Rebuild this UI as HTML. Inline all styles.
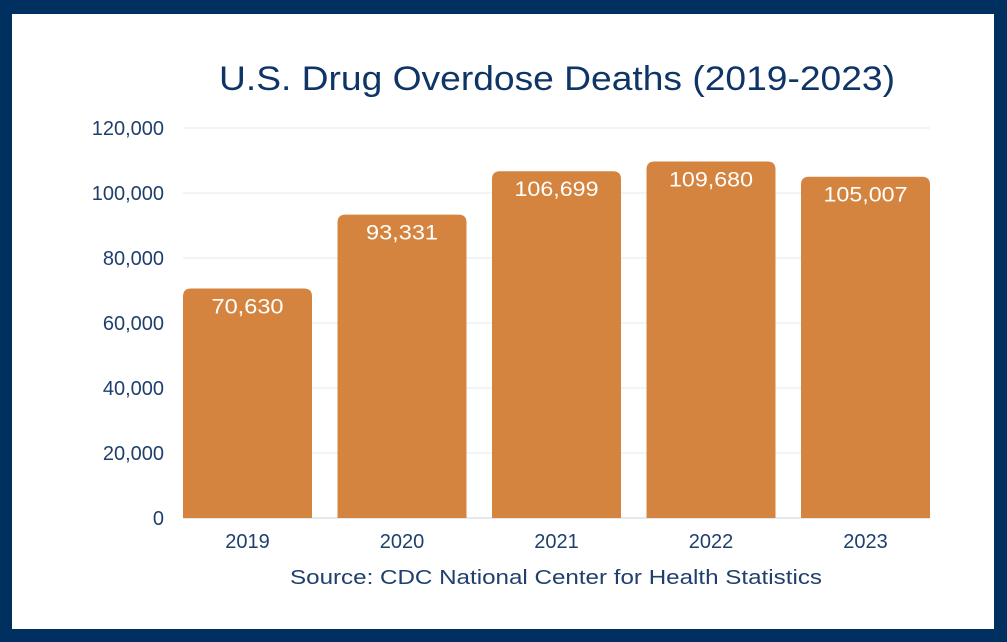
<!DOCTYPE html>
<html><head><meta charset="utf-8"><style>
html,body{margin:0;padding:0;background:#fff}
body{width:1007px;height:642px;overflow:hidden;position:relative;font-family:"Liberation Sans",sans-serif}
#frame{position:absolute;left:0;top:0;width:1007px;height:642px;background:#00305f}
#inner{position:absolute;left:12px;top:14px;width:982px;height:615px;background:#fff}
svg{position:absolute;left:0;top:0}
</style></head><body>
<div id="frame"></div>
<div id="inner"></div>
<svg id="chart" width="1007" height="642">
<text x="219" y="90" font-size="34" fill="#0f3566" textLength="676" lengthAdjust="spacingAndGlyphs">U.S. Drug Overdose Deaths (2019-2023)</text>
<text x="290" y="584" font-size="20" fill="#1f3f6e" textLength="532" lengthAdjust="spacingAndGlyphs">Source: CDC National Center for Health Statistics</text>
<g id="grid"></g><g id="bars"></g><g id="labels"></g>
</svg>
<script>
const categories=["2019","2020","2021","2022","2023"];
const values=[70630,93331,106699,109680,105007];
const valueLabels=["70,630","93,331","106,699","109,680","105,007"];
const yTicks=[0,20000,40000,60000,80000,100000,120000];
const yTickLabels=["0","20,000","40,000","60,000","80,000","100,000","120,000"];
const NS="http://www.w3.org/2000/svg";
const x0=183,x1=930,yBase=518,yTop=128,yMax=120000;
const y=v=>yBase-(v/yMax)*(yBase-yTop);
const band=154.5, bw=129;
const xb=i=>x0+i*band;
function mk(t,a){const e=document.createElementNS(NS,t);for(const k in a)e.setAttribute(k,a[k]);return e;}
const grid=document.getElementById('grid'),bars=document.getElementById('bars'),labels=document.getElementById('labels');
yTicks.forEach((t,i)=>{
  const l=mk('line',{x1:x0,x2:x1,y1:y(t),y2:y(t),stroke:t===0?'#c9d3df':'#e6ebf1','stroke-width':1});
  
  
  grid.appendChild(l);
  const tx=mk('text',{x:164,y:y(t)+7,'text-anchor':'end','font-size':20,fill:'#1f3f6e'});
  tx.textContent=yTickLabels[i];
  
  
  grid.appendChild(tx);
});
categories.forEach((c,i)=>{
  const X=xb(i),Y=y(values[i]),r=8;
  const p=mk('path',{d:`M${X},${yBase}V${Y+r}Q${X},${Y} ${X+r},${Y}H${X+bw-r}Q${X+bw},${Y} ${X+bw},${Y+r}V${yBase}Z`,fill:'#d4843e'});
  
  
  bars.appendChild(p);
  const len=valueLabels[i].length>6?84:72;
  const v=mk('text',{x:X+bw/2-len/2,y:Y+25,'font-size':21,fill:'#fff',textLength:len,lengthAdjust:'spacingAndGlyphs'});
  v.textContent=valueLabels[i];
  
  
  labels.appendChild(v);
  const xl=mk('text',{x:X+bw/2,y:548,'text-anchor':'middle','font-size':20,fill:'#1f3f6e'});
  xl.textContent=c;
  
  
  labels.appendChild(xl);
});
</script>
</body></html>
